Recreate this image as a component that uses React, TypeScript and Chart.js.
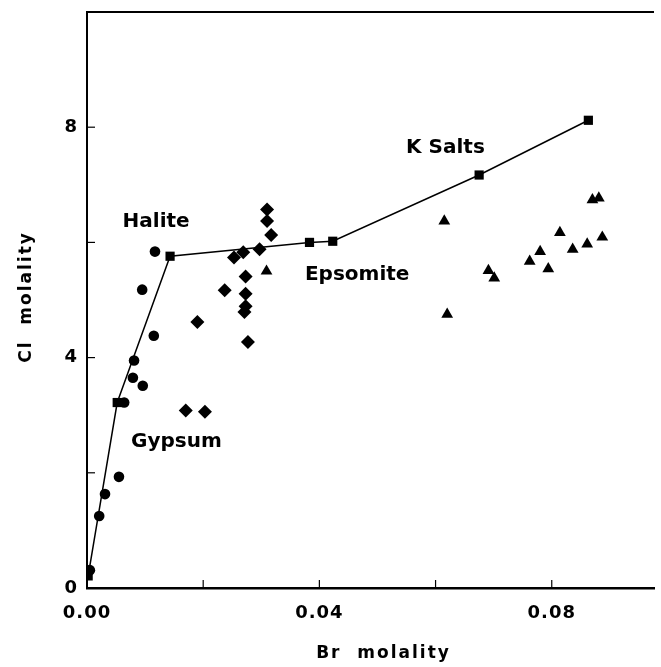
import React, { useEffect, useRef } from "react";
import { Chart, registerables } from "chart.js";

Chart.register(...registerables);

// Line series (squares): K-salt trend
const lineBr = [0.0002, 0.0052, 0.0143, 0.0383, 0.0423, 0.0675, 0.0863];
const lineCl = [0.21, 3.22, 5.76, 6.0, 6.02, 7.17, 8.12];

// Circles
const circleBr = [0.0005, 0.0021, 0.0031, 0.0055, 0.0064, 0.0079, 0.0081, 0.0096, 0.0115, 0.0095, 0.0117];
const circleCl = [0.31, 1.25, 1.63, 1.93, 3.22, 3.65, 3.95, 3.51, 4.38, 5.18, 5.84];

// Diamonds
const diamondBr = [0.031, 0.031, 0.0317, 0.0297, 0.0269, 0.0253, 0.0273, 0.0237, 0.0273, 0.0273, 0.0271, 0.019, 0.0277, 0.017, 0.0203];
const diamondCl = [6.57, 6.37, 6.13, 5.88, 5.83, 5.74, 5.41, 5.17, 5.11, 4.89, 4.79, 4.62, 4.27, 3.08, 3.06];

// Triangles
const triangleBr = [0.0309, 0.0615, 0.062, 0.0691, 0.0701, 0.0762, 0.078, 0.0794, 0.0814, 0.0836, 0.0861, 0.087, 0.0881, 0.0887];
const triangleCl = [5.5, 6.37, 4.75, 5.51, 5.38, 5.67, 5.84, 5.54, 6.17, 5.88, 5.97, 6.74, 6.77, 6.09];

// Ticks
const xTickValues = [0, 0.02, 0.04, 0.06, 0.08];
const xTickLabels = ["0.00", "", "0.04", "", "0.08"];
const yTickValues = [0, 2, 4, 6, 8];
const yTickLabels = ["0", "", "4", "", "8"];

// Annotations
const noteTexts = ["Halite", "Epsomite", "K Salts", "Gypsum"];
const noteBr = [0.0119, 0.0465, 0.0617, 0.0154];
const noteCl = [6.35, 5.43, 7.65, 2.54];

const xTitle = "Br  molality";
const yTitle = "Cl  molality";

const pts = (xs: number[], ys: number[]) => xs.map((x, i) => ({ x, y: ys[i] }));

const FONT = "'DejaVu Sans', sans-serif";

export default function App() {
  const ref = useRef<HTMLCanvasElement | null>(null);
  useEffect(() => {
    if (!ref.current) return;
    const spacing = {
      id: "spacing",
      beforeUpdate(chart: any) {
        chart.ctx.letterSpacing = "1px";
      },
      beforeLayout(chart: any) {
        chart.ctx.letterSpacing = "1px";
      },
      beforeDraw(chart: any) {
        chart.ctx.letterSpacing = "1px";
      },
    };
    const deco = {
      id: "deco",
      afterDraw(chart: any) {
        const ctx = chart.ctx;
        const a = chart.chartArea;
        const xs = chart.scales.x;
        const ys = chart.scales.y;
        ctx.save();
        ctx.strokeStyle = "#000";
        // top border
        ctx.lineWidth = 2;
        ctx.beginPath();
        ctx.moveTo(a.left, a.top);
        ctx.lineTo(a.right, a.top);
        ctx.stroke();
        // inward ticks
        ctx.lineWidth = 1.2;
        xTickValues.forEach((v) => {
          if (v === 0) return;
          const px = xs.getPixelForValue(v);
          ctx.beginPath();
          ctx.moveTo(px, a.bottom);
          ctx.lineTo(px, a.bottom - 8);
          ctx.stroke();
        });
        yTickValues.forEach((v) => {
          if (v === 0) return;
          const py = ys.getPixelForValue(v);
          ctx.beginPath();
          ctx.moveTo(a.left, py);
          ctx.lineTo(a.left + 8, py);
          ctx.stroke();
        });
        // annotations
        ctx.fillStyle = "#000";
        ctx.font = `bold 20px ${FONT}`;
        ctx.letterSpacing = "0px";
        ctx.textAlign = "center";
        ctx.textBaseline = "middle";
        noteTexts.forEach((t, i) => {
          ctx.fillText(t, xs.getPixelForValue(noteBr[i]), ys.getPixelForValue(noteCl[i]));
        });
        // axis titles
        ctx.font = `bold 17px ${FONT}`;
        ctx.letterSpacing = "2px";
        ctx.fillText(xTitle, (a.left + a.right) / 2 + 13, a.bottom + 66);
        ctx.translate(27, (a.top + a.bottom) / 2 - 3);
        ctx.rotate(-Math.PI / 2);
        ctx.fillText(yTitle, 0, 0);
        ctx.restore();
      },
    };
    const chart = new Chart(ref.current, {
      type: "scatter",
      data: {
        datasets: [
          {
            type: "line",
            data: pts(lineBr, lineCl),
            borderColor: "#000",
            backgroundColor: "#000",
            borderWidth: 1.5,
            pointStyle: "rect",
            pointRadius: 6.5,
            pointBorderWidth: 0,
            tension: 0,
          } as any,
          {
            data: pts(circleBr, circleCl),
            backgroundColor: "#000",
            borderColor: "#000",
            pointStyle: "circle",
            pointRadius: 5.3,
            pointBorderWidth: 0,
          },
          {
            data: pts(diamondBr, diamondCl),
            backgroundColor: "#000",
            borderColor: "#000",
            pointStyle: "rectRot",
            pointRadius: 7,
            pointBorderWidth: 0,
          },
          {
            data: pts(triangleBr, triangleCl),
            backgroundColor: "#000",
            borderColor: "#000",
            pointStyle: "triangle",
            pointRadius: 6.8,
            pointBorderWidth: 0,
          },
        ],
      },
      options: {
        animation: false,
        responsive: false,
        events: [],
        layout: { padding: { top: 12, right: 0, left: 0, bottom: 0 } },
        plugins: { legend: { display: false }, tooltip: { enabled: false } },
        scales: {
          x: {
            type: "linear",
            min: 0,
            max: 0.0976,
            afterFit: (s: any) => {
              s.height = 79;
              s.paddingLeft = 0;
              s.paddingRight = 0;
            },
            afterBuildTicks: (s: any) => {
              s.ticks = xTickValues.map((v) => ({ value: v }));
            },
            ticks: {
              color: "#000",
              font: { family: FONT, size: 18, weight: "bold" },
              padding: 15,
              maxRotation: 0,
              autoSkip: false,
              callback: (v: any) => {
                const i = xTickValues.findIndex((t) => Math.abs(t - v) < 1e-9);
                return i >= 0 ? xTickLabels[i] : "";
              },
            },
            grid: { display: false, drawTicks: false },
            border: { display: true, color: "#000", width: 2.5 },
          },
          y: {
            type: "linear",
            min: 0,
            max: 10,
            afterFit: (s: any) => {
              s.width = 87;
              s.paddingTop = 0;
              s.paddingBottom = 0;
            },
            afterBuildTicks: (s: any) => {
              s.ticks = yTickValues.map((v) => ({ value: v }));
            },
            ticks: {
              color: "#000",
              font: { family: FONT, size: 18, weight: "bold" },
              padding: 9,
              autoSkip: false,
              callback: (v: any) => {
                const i = yTickValues.findIndex((t) => Math.abs(t - v) < 1e-9);
                return i >= 0 ? yTickLabels[i] : "";
              },
            },
            grid: { display: false, drawTicks: false },
            border: { display: true, color: "#000", width: 2 },
          },
        },
      },
      plugins: [spacing, deco],
    });
    return () => chart.destroy();
  }, []);
  return (
    <div style={{ position: "fixed", left: 0, top: 0, width: 661, height: 667, background: "#fff" }}>
      <canvas ref={ref} width={661} height={667} style={{ display: "block" }} />
    </div>
  );
}
